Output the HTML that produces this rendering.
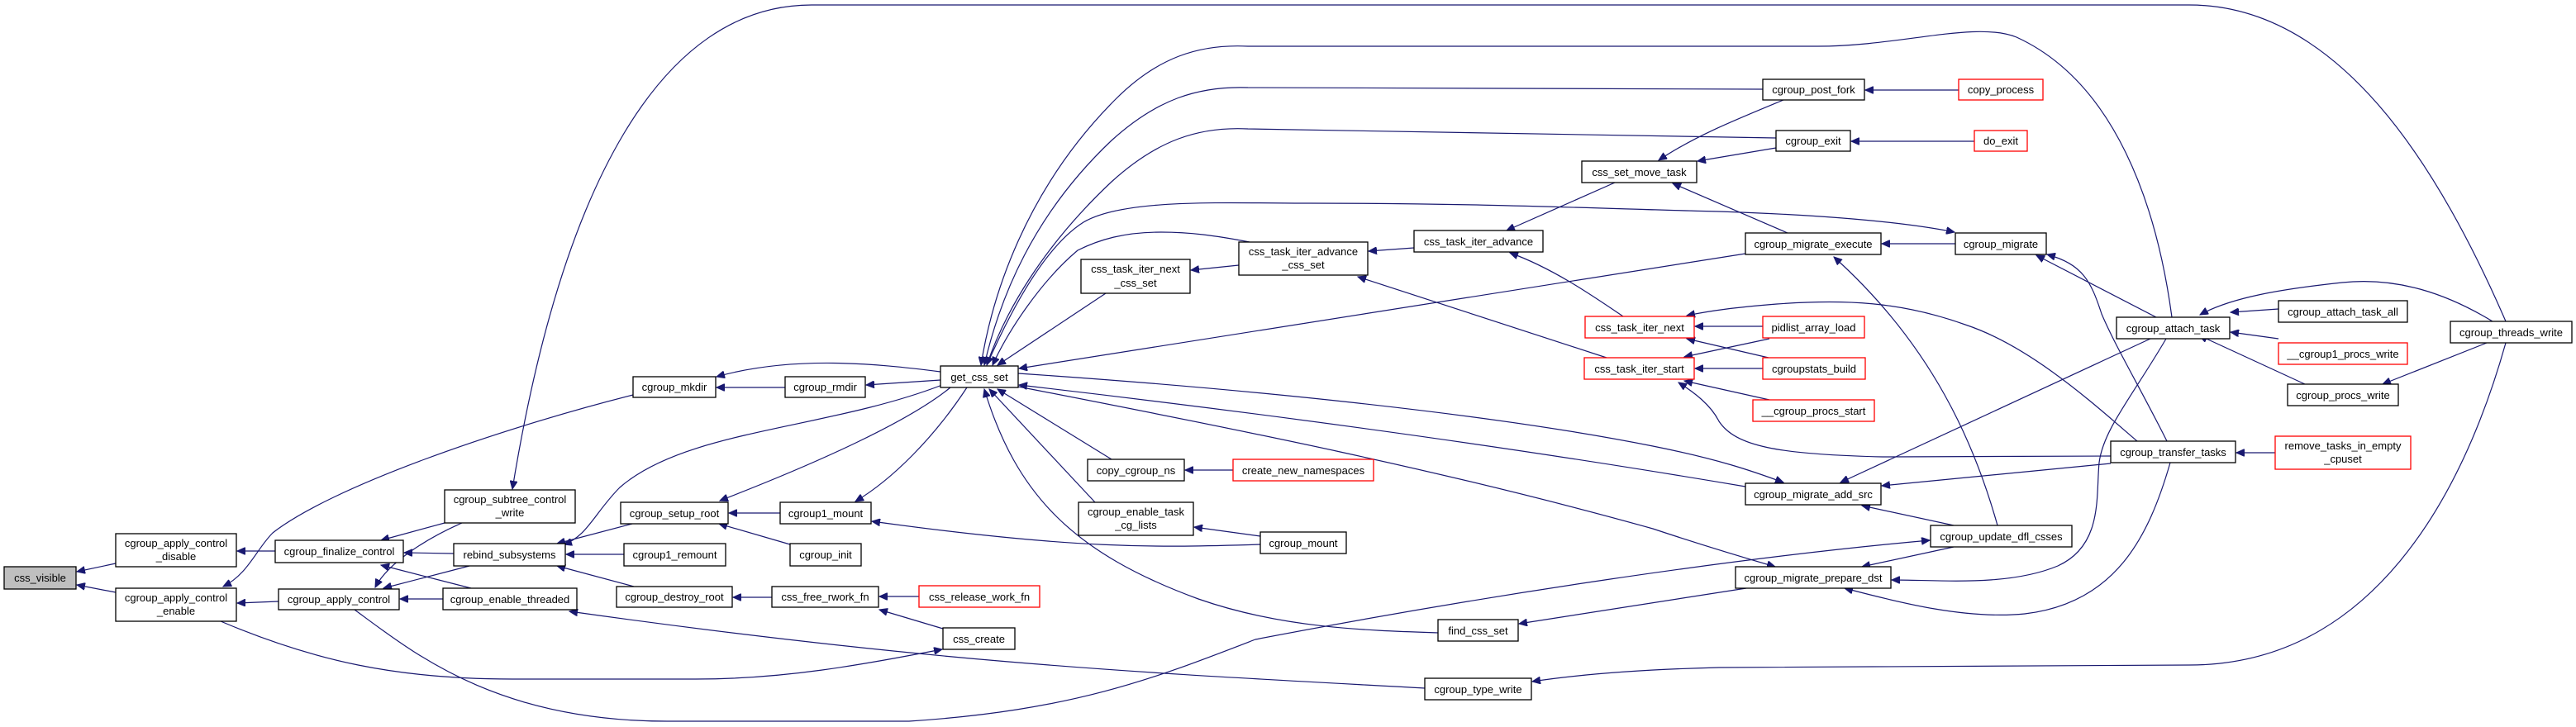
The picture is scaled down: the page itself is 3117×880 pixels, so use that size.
<!DOCTYPE html>
<html><head><meta charset="utf-8"><style>
html,body{margin:0;padding:0;background:#fff;}
svg{display:block;}
text{font-family:"Liberation Sans",sans-serif;font-size:13px;fill:#000;text-anchor:middle;}
.e{fill:none;stroke:#191970;stroke-width:1.2;marker-end:url(#a);}
.n{fill:#fff;stroke:#000;stroke-width:1.3;}
.r{fill:#fff;stroke:#ff0000;stroke-width:1.3;}
</style></head><body>
<svg width="3117" height="880" viewBox="0 0 3117 880" xmlns="http://www.w3.org/2000/svg">
<defs><marker id="a" markerWidth="11" markerHeight="9" refX="10" refY="4.5" orient="auto" markerUnits="userSpaceOnUse"><path d="M0,0 L10,4.5 L0,9z" fill="#191970" stroke="#191970" stroke-width="1"/></marker></defs>

<!-- edges -->
<path class="e" d="M140,682 L93,692"/>
<path class="e" d="M140,717 L93,708"/>
<path class="e" d="M333,667 L287,667"/>
<path class="e" d="M337,728 L287,730"/>
<path class="e" d="M538,633 L461,654"/>
<path class="e" d="M549,670 L489,669"/>
<path class="e" d="M570,712 L461,684"/>
<path class="e" d="M559,633 C520,650 470,680 454,711"/>
<path class="e" d="M568,685 L464,712"/>
<path class="e" d="M536,725 L484,725"/>
<path class="e" d="M766,478 C600,520 400,590 330,645 C310,665 300,695 270,710"/>
<path class="e" d="M765,634 L674,658"/>
<path class="e" d="M755,671 L685,671"/>
<path class="e" d="M767,710 L674,685"/>
<path class="e" d="M1140,466 C1000,520 830,520 750,590 C720,620 710,650 682,659"/>
<path class="e" d="M950,469 L867,469"/>
<path class="e" d="M1138,450 C1060,440 960,430 867,456"/>
<path class="e" d="M1138,460 L1048,466"/>
<path class="e" d="M944,621 L882,621"/>
<path class="e" d="M956,659 L870,634"/>
<path class="e" d="M1150,469 C1100,510 990,560 871,606"/>
<path class="e" d="M1170,469 C1130,530 1080,580 1035,607"/>
<path class="e" d="M1525,659 C1400,663 1300,665 1055,631"/>
<path class="e" d="M934,723 L887,723"/>
<path class="e" d="M1112,722 L1064,722"/>
<path class="e" d="M1141,761 L1064,738"/>
<path class="e" d="M267,752 C380,800 480,822 620,822 L842,822 C950,822 1040,805 1140,786"/>
<path class="e" d="M1724,833 C1400,815 1150,805 689,740"/>
<path class="e" d="M429,738 C500,790 600,873 807,873 L1100,873 C1300,860 1400,820 1519,774 C1800,720 2100,675 2335,654"/>
<path class="e" d="M3032,389 C2950,200 2830,6 2649,6 L982,6 C800,6 680,224 620,592"/>
<!-- get_css_set callers -->
<path class="e" d="M2628,384 C2610,250 2560,100 2440,45 C2390,25 2300,56 2199,56 L1510,56 C1450,53 1400,70 1350,120 C1240,230 1200,360 1187,442"/>
<path class="e" d="M2133,108 L1510,106 C1450,104 1400,120 1345,170 C1250,260 1210,360 1191,442"/>
<path class="e" d="M2149,167 L1510,156 C1450,153 1400,170 1345,220 C1260,300 1215,380 1194,442"/>
<path class="e" d="M1194,442 C1230,360 1270,295 1311,269 C1360,240 1480,246 1586,246 C1800,246 1950,253 2080,256 C2200,260 2300,268 2365,281"/>
<path class="e" d="M1512,293 C1470,285 1440,281 1405,281 C1360,281 1330,290 1304,303 C1260,340 1220,400 1201,442"/>
<path class="e" d="M1338,355 L1207,442"/>
<path class="e" d="M2112,307 L1233,446"/>
<path class="e" d="M1345,556 L1207,471"/>
<path class="e" d="M1325,608 L1197,471"/>
<path class="e" d="M1740,766 C1650,763 1550,760 1450,725 C1300,670 1230,600 1191,471"/>
<path class="e" d="M1232,452 C1500,470 1800,500 2000,540 C2080,556 2120,570 2158,584"/>
<path class="e" d="M2112,589 C2000,570 1700,520 1233,466"/>
<path class="e" d="M1232,468 C1500,520 1750,570 2000,640 C2060,660 2100,672 2148,686"/>
<path class="e" d="M2113,712 L1838,755"/>
<!-- iter chain -->
<path class="e" d="M1711,300 L1656,304"/>
<path class="e" d="M1499,321 L1441,327"/>
<path class="e" d="M1954,221 L1823,279"/>
<path class="e" d="M1964,383 C1930,360 1880,325 1827,306"/>
<path class="e" d="M1944,433 L1643,335"/>
<path class="e" d="M1492,569 L1434,569"/>
<path class="e" d="M1525,649 L1445,638"/>
<path class="e" d="M2158,121 C2100,145 2050,165 2007,194"/>
<path class="e" d="M2149,179 L2054,195"/>
<path class="e" d="M2163,282 L2024,222"/>
<path class="e" d="M2133,395 L2051,395"/>
<path class="e" d="M2140,433 L2041,410"/>
<path class="e" d="M2141,410 L2038,432"/>
<path class="e" d="M2133,446 L2051,446"/>
<path class="e" d="M2141,484 L2038,461"/>
<path class="e" d="M2586,534 C2540,495 2460,420 2378,393 C2300,365 2232,362 2150,368 C2100,372 2070,376 2041,382"/>
<path class="e" d="M2554,552 L2278,553 C2150,550 2100,540 2080,510 C2070,490 2050,475 2031,463"/>
<!-- migrate -->
<path class="e" d="M2366,295 L2277,295"/>
<path class="e" d="M2417,636 C2390,540 2340,420 2219,311"/>
<path class="e" d="M2609,384 L2464,309"/>
<path class="e" d="M2622,534 C2590,470 2560,420 2543,380 C2530,340 2520,320 2477,308"/>
<path class="e" d="M2602,410 L2227,584"/>
<path class="e" d="M2554,561 L2277,588"/>
<path class="e" d="M2364,636 L2253,612"/>
<path class="e" d="M2364,662 L2253,686"/>
<path class="e" d="M2621,410 C2580,480 2545,520 2540,560 C2536,600 2545,660 2490,685 C2430,710 2350,702 2289,702"/>
<path class="e" d="M2626,560 C2600,650 2560,730 2450,743 C2380,750 2300,730 2232,712"/>
<path class="e" d="M2757,374 L2699,378"/>
<path class="e" d="M2757,410 L2699,402"/>
<path class="e" d="M2789,465 L2661,406"/>
<path class="e" d="M3016,389 C2960,355 2900,335 2834,342 C2760,350 2700,360 2662,381"/>
<path class="e" d="M3009,415 L2883,465"/>
<path class="e" d="M2753,548 L2706,548"/>
<path class="e" d="M3032,415 C2980,600 2870,805 2649,805 L2080,808 C2000,810 1920,815 1854,825"/>
<path class="e" d="M2370,109 L2257,109"/>
<path class="e" d="M2389,171 L2240,171"/>

<!-- nodes -->
<rect x="5" y="686" width="87" height="27" fill="#bfbfbf" stroke="#000" stroke-width="1.3"/><text x="48.5" y="704">css_visible</text>
<rect class="n" x="140" y="646" width="146" height="40"/><text x="213" y="662">cgroup_apply_control</text><text x="213" y="678">_disable</text>
<rect class="n" x="140" y="712" width="146" height="40"/><text x="213" y="728">cgroup_apply_control</text><text x="213" y="744">_enable</text>
<rect class="n" x="333" y="654" width="155" height="27"/><text x="410.5" y="672">cgroup_finalize_control</text>
<rect class="n" x="337" y="713" width="146" height="25"/><text x="410" y="730">cgroup_apply_control</text>
<rect class="n" x="538" y="593" width="158" height="40"/><text x="617" y="609">cgroup_subtree_control</text><text x="617" y="625">_write</text>
<rect class="n" x="549" y="658" width="135" height="27"/><text x="616.5" y="676">rebind_subsystems</text>
<rect class="n" x="536" y="712" width="162" height="26"/><text x="617" y="730">cgroup_enable_threaded</text>
<rect class="n" x="766" y="456" width="100" height="25"/><text x="816" y="473">cgroup_mkdir</text>
<rect class="n" x="950" y="456" width="97" height="25"/><text x="998.5" y="473">cgroup_rmdir</text>
<rect class="n" x="751" y="608" width="130" height="26"/><text x="816" y="626">cgroup_setup_root</text>
<rect class="n" x="944" y="608" width="110" height="26"/><text x="999" y="626">cgroup1_mount</text>
<rect class="n" x="755" y="658" width="123" height="27"/><text x="816.5" y="676">cgroup1_remount</text>
<rect class="n" x="956" y="658" width="86" height="27"/><text x="999" y="676">cgroup_init</text>
<rect class="n" x="746" y="710" width="140" height="25"/><text x="816" y="727">cgroup_destroy_root</text>
<rect class="n" x="934" y="710" width="129" height="25"/><text x="998.5" y="727">css_free_rwork_fn</text>
<rect class="n" x="1138" y="443" width="94" height="26"/><text x="1185" y="461">get_css_set</text>
<rect class="n" x="1308" y="314" width="132" height="41"/><text x="1374" y="330">css_task_iter_next</text><text x="1374" y="347">_css_set</text>
<rect class="n" x="1499" y="293" width="156" height="40"/><text x="1577" y="309">css_task_iter_advance</text><text x="1577" y="325">_css_set</text>
<rect class="n" x="1711" y="279" width="156" height="26"/><text x="1789" y="297">css_task_iter_advance</text>
<rect class="n" x="1914" y="195" width="139" height="26"/><text x="1983.5" y="213">css_set_move_task</text>
<rect class="r" x="1918" y="383" width="132" height="26"/><text x="1984" y="401">css_task_iter_next</text>
<rect class="r" x="1917" y="433" width="133" height="26"/><text x="1983.5" y="451">css_task_iter_start</text>
<rect class="n" x="1316" y="556" width="117" height="26"/><text x="1374.5" y="574">copy_cgroup_ns</text>
<rect class="r" x="1492" y="556" width="170" height="26"/><text x="1577" y="574">create_new_namespaces</text>
<rect class="n" x="1305" y="608" width="139" height="40"/><text x="1374.5" y="624">cgroup_enable_task</text><text x="1374.5" y="640">_cg_lists</text>
<rect class="n" x="1525" y="644" width="104" height="26"/><text x="1577" y="662">cgroup_mount</text>
<rect class="r" x="1112" y="709" width="146" height="26"/><text x="1185" y="727">css_release_work_fn</text>
<rect class="n" x="1141" y="760" width="87" height="26"/><text x="1184.5" y="778">css_create</text>
<rect class="n" x="1740" y="750" width="97" height="26"/><text x="1788.5" y="768">find_css_set</text>
<rect class="n" x="1724" y="821" width="129" height="26"/><text x="1788.5" y="839">cgroup_type_write</text>
<rect class="n" x="2133" y="96" width="123" height="25"/><text x="2194.5" y="113">cgroup_post_fork</text>
<rect class="r" x="2370" y="96" width="102" height="25"/><text x="2421" y="113">copy_process</text>
<rect class="n" x="2149" y="158" width="90" height="25"/><text x="2194" y="175">cgroup_exit</text>
<rect class="r" x="2389" y="158" width="64" height="25"/><text x="2421" y="175">do_exit</text>
<rect class="n" x="2112" y="282" width="164" height="26"/><text x="2194" y="300">cgroup_migrate_execute</text>
<rect class="n" x="2366" y="282" width="110" height="26"/><text x="2421" y="300">cgroup_migrate</text>
<rect class="r" x="2133" y="383" width="123" height="26"/><text x="2194.5" y="401">pidlist_array_load</text>
<rect class="r" x="2133" y="433" width="124" height="26"/><text x="2195" y="451">cgroupstats_build</text>
<rect class="r" x="2121" y="484" width="147" height="26"/><text x="2194.5" y="502">__cgroup_procs_start</text>
<rect class="n" x="2112" y="585" width="164" height="26"/><text x="2194" y="603">cgroup_migrate_add_src</text>
<rect class="n" x="2336" y="636" width="171" height="26"/><text x="2421.5" y="654">cgroup_update_dfl_csses</text>
<rect class="n" x="2100" y="686" width="188" height="26"/><text x="2194" y="704">cgroup_migrate_prepare_dst</text>
<rect class="n" x="2561" y="384" width="137" height="26"/><text x="2629.5" y="402">cgroup_attach_task</text>
<rect class="n" x="2757" y="364" width="156" height="26"/><text x="2835" y="382">cgroup_attach_task_all</text>
<rect class="r" x="2757" y="415" width="156" height="26"/><text x="2835" y="433">__cgroup1_procs_write</text>
<rect class="n" x="2768" y="465" width="134" height="26"/><text x="2835" y="483">cgroup_procs_write</text>
<rect class="n" x="2554" y="534" width="151" height="26"/><text x="2629.5" y="552">cgroup_transfer_tasks</text>
<rect class="r" x="2753" y="528" width="164" height="40"/><text x="2835" y="544">remove_tasks_in_empty</text><text x="2835" y="560">_cpuset</text>
<rect class="n" x="2965" y="389" width="147" height="26"/><text x="3038.5" y="407">cgroup_threads_write</text>
</svg>
</body></html>
